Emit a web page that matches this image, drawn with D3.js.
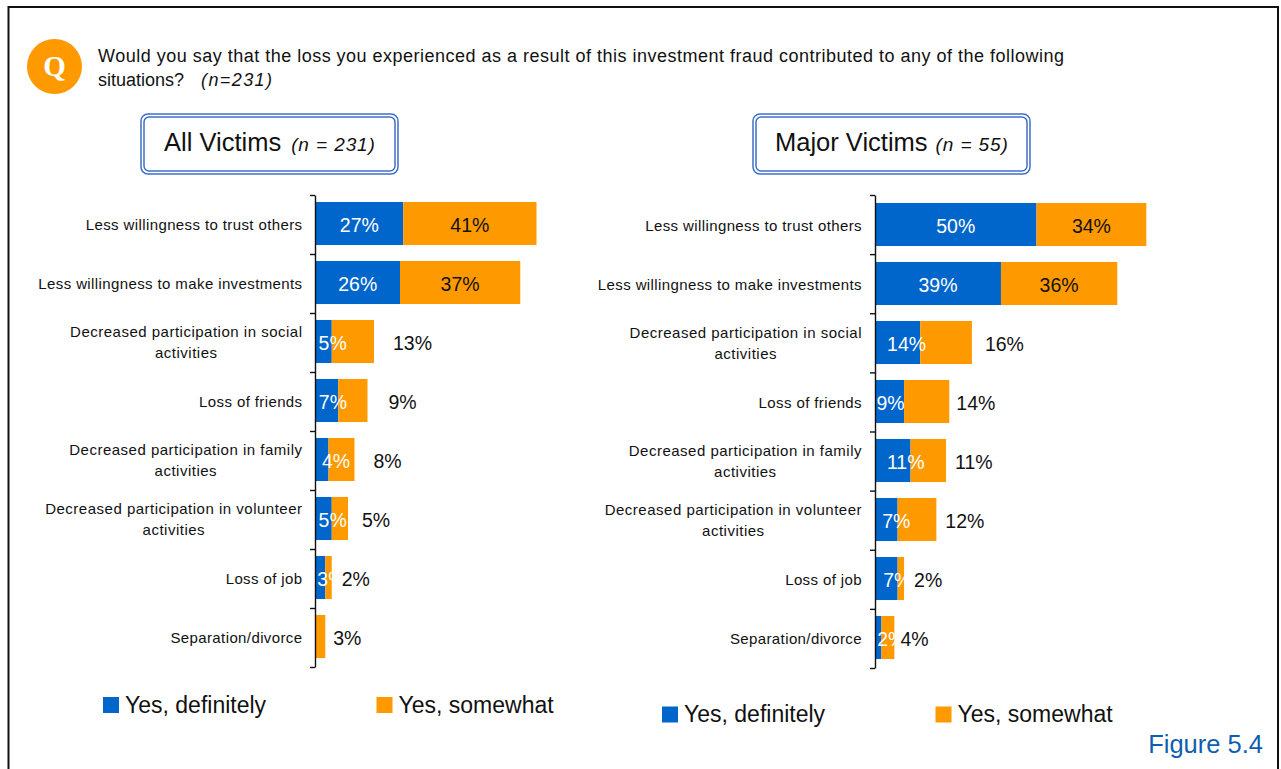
<!DOCTYPE html>
<html>
<head>
<meta charset="utf-8">
<script src="https://cdn.jsdelivr.net/npm/d3@7"></script>
<style>
  html, body { margin: 0; padding: 0; background: #fff; overflow: hidden; }
  svg { display: block; }
  text { font-family: "Liberation Sans", Arial, sans-serif; fill: #111; }
</style>
</head>
<body>
<div id="chart"></div>
<script>
// data
const categories = [
  'Less willingness to trust others',
  'Less willingness to make investments',
  'Decreased participation in social|activities',
  'Loss of friends',
  'Decreased participation in family|activities',
  'Decreased participation in volunteer|activities',
  'Loss of job',
  'Separation/divorce'
];
const allDefinitely = [27, 26, 5, 7, 4, 5, 3, 0];
const allSomewhat = [41, 37, 13, 9, 8, 5, 2, 3];
const majorDefinitely = [50, 39, 14, 9, 11, 7, 7, 2];
const majorSomewhat = [34, 36, 16, 14, 11, 12, 2, 4];
const seriesNames = ['Yes, definitely', 'Yes, somewhat'];

// constants
const FRAME_WIDTH = 1281;
const FRAME_HEIGHT = 769;
const BLUE = '#0066CC';
const ORANGE = '#FF9900';
const BOX_BLUE = '#3F6FC6';

const SVG = d3.select('#chart')
  .append('svg')
  .attr('width', FRAME_WIDTH)
  .attr('height', FRAME_HEIGHT);

// outer frame, open at the bottom
SVG.append('path')
  .attr('d', 'M8.5,' + FRAME_HEIGHT + 'V7H1278V' + FRAME_HEIGHT)
  .attr('fill', 'none')
  .attr('stroke', '#111')
  .attr('stroke-width', 2);

// question
SVG.append('circle').attr('cx', 54.5).attr('cy', 66.5).attr('r', 27.5).attr('fill', ORANGE);
SVG.append('text').attr('x', 54.5).attr('y', 76)
  .attr('text-anchor', 'middle')
  .style('font-family', '"Liberation Serif", serif')
  .style('font-size', '29px').style('font-weight', 'bold').style('fill', '#fff')
  .text('Q');
SVG.append('text').attr('x', 98).attr('y', 62)
  .attr('textLength', 966).attr('lengthAdjust', 'spacing')
  .style('font-size', '18px')
  .text('Would you say that the loss you experienced as a result of this investment fraud contributed to any of the following');
const secondLine = SVG.append('text').attr('x', 98).attr('y', 86).style('font-size', '18px');
secondLine.append('tspan').text('situations?');
secondLine.append('tspan').attr('dx', 17).style('font-style', 'italic').style('letter-spacing', '1.4px').text('(n=231)');

SVG.append('text').attr('x', 1263).attr('y', 753)
  .attr('text-anchor', 'end')
  .style('font-size', '25.5px').style('fill', '#0F5FAF')
  .text('Figure 5.4');

function drawPanel(p) {
  // title box with a double border
  SVG.append('rect').attr('x', p.boxX).attr('y', 114).attr('width', p.boxW).attr('height', 60).attr('rx', 7)
    .attr('fill', 'none').attr('stroke', BOX_BLUE).attr('stroke-width', 1.5);
  SVG.append('rect').attr('x', p.boxX + 3).attr('y', 117).attr('width', p.boxW - 6).attr('height', 54).attr('rx', 5)
    .attr('fill', 'none').attr('stroke', BOX_BLUE).attr('stroke-width', 1.5);
  const title = SVG.append('text').attr('x', p.titleX).attr('y', 151).style('font-size', '25.5px');
  title.append('tspan').text(p.title);
  title.append('tspan').attr('dx', p.noteGap).style('font-size', '19px').style('font-style', 'italic').style('letter-spacing', '0.9px').text(p.note);

  const xScale = d3.scaleLinear().domain([0, 100]).range([0, p.pxPer100]);
  const yScale = d3.scaleBand()
    .domain(categories)
    .range([p.barTop, p.barTop + 472])
    .paddingInner(0.27)
    .paddingOuter(0.135);

  const rows = SVG.selectAll(null)
    .data(categories.map((c, i) => ({c: c, i: i, a: p.definitely[i], b: p.somewhat[i]})))
    .enter()
    .append('g');

  rows.append('rect')
    .attr('x', d => p.barX)
    .attr('y', d => yScale(d.c))
    .attr('width', d => xScale(d.a))
    .attr('height', yScale.bandwidth())
    .attr('fill', BLUE);
  rows.append('rect')
    .attr('x', d => p.barX + xScale(d.a))
    .attr('y', d => yScale(d.c))
    .attr('width', d => xScale(d.b))
    .attr('height', yScale.bandwidth())
    .attr('fill', ORANGE);

  // axis has its ticks between the categories
  const tickScale = d3.scaleLinear().domain([0, categories.length]).range([p.axisTop, p.axisBottom]);
  const axis = SVG.append('g')
    .attr('transform', 'translate(' + p.x0 + ',0)')
    .call(d3.axisLeft(tickScale).ticks(categories.length).tickFormat('').tickSize(5).tickSizeOuter(0));
  axis.selectAll('line,path').attr('stroke', '#111').attr('stroke-width', 1.4);

  // category labels: lines centred on each other, block right aligned
  rows.each(function(d) {
    const lines = d.c.split('|');
    const g = d3.select(this);
    const mid = yScale(d.c) + yScale.bandwidth() / 2;
    const texts = lines.map((line, k) => g.append('text')
      .attr('y', mid + 6 + (k - (lines.length - 1) / 2) * 21)
      .style('font-size', '15px')
      .style('letter-spacing', lines.length > 1 ? '0.5px' : '0.39px')
      .text(line));
    const widest = d3.max(texts, t => t.node().getComputedTextLength());
    texts.forEach(t => t.attr('x', p.labelEnd - widest / 2).attr('text-anchor', 'middle'));
  });

  // value labels
  rows.filter(d => d.a > 0).append('text')
    .attr('x', d => p.barX + xScale(d.a) / 2 + p.blueNudge[d.i])
    .attr('y', d => yScale(d.c) + yScale.bandwidth() / 2 + 8)
    .attr('text-anchor', 'middle')
    .style('font-size', '19.5px').style('fill', '#fff')
    .text(d => d.a + '%');
  rows.append('text')
    .attr('x', d => d.b >= 20
      ? p.barX + xScale(d.a) + xScale(d.b) / 2
      : p.barX + xScale(d.a + d.b) + 9 + p.outerNudge[d.i])
    .attr('y', d => yScale(d.c) + yScale.bandwidth() / 2 + 8)
    .attr('text-anchor', d => d.b >= 20 ? 'middle' : 'start')
    .style('font-size', '19.5px')
    .text(d => d.b + '%');

  // legend
  seriesNames.forEach((name, i) => {
    const lx = p.legendX + i * 273.5;
    SVG.append('rect').attr('x', lx).attr('y', p.legendY).attr('width', 16).attr('height', 16)
      .attr('fill', i === 0 ? BLUE : ORANGE);
    SVG.append('text').attr('x', lx + 22).attr('y', p.legendY + 15.5)
      .style('font-size', '23px')
      .text(name);
  });
}

drawPanel({
  title: 'All Victims', note: '(n = 231)',
  definitely: allDefinitely, somewhat: allSomewhat,
  x0: 315, barX: 315.5, labelEnd: 302.5, pxPer100: 325,
  boxX: 141, boxW: 257, titleX: 164, noteGap: 10,
  barTop: 194, axisTop: 195, axisBottom: 667,
  legendX: 103, legendY: 697,
  blueNudge: [0, 0, 9, 6, 14, 9, 11, 0],
  outerNudge: [0, 0, 10, 12, 10, 5, 1, -1]
});
drawPanel({
  title: 'Major Victims', note: '(n = 55)',
  definitely: majorDefinitely, somewhat: majorSomewhat,
  x0: 875, barX: 875, labelEnd: 862, pxPer100: 323,
  boxX: 753, boxW: 277, titleX: 775, noteGap: 8,
  barTop: 195, axisTop: 195, axisBottom: 668,
  legendX: 662, legendY: 706.5,
  blueNudge: [0, 0, 9, 1, 13, 10, 11, 13],
  outerNudge: [0, 0, 4, -2, 0, 0, 1, -3]
});
</script>
</body>
</html>
